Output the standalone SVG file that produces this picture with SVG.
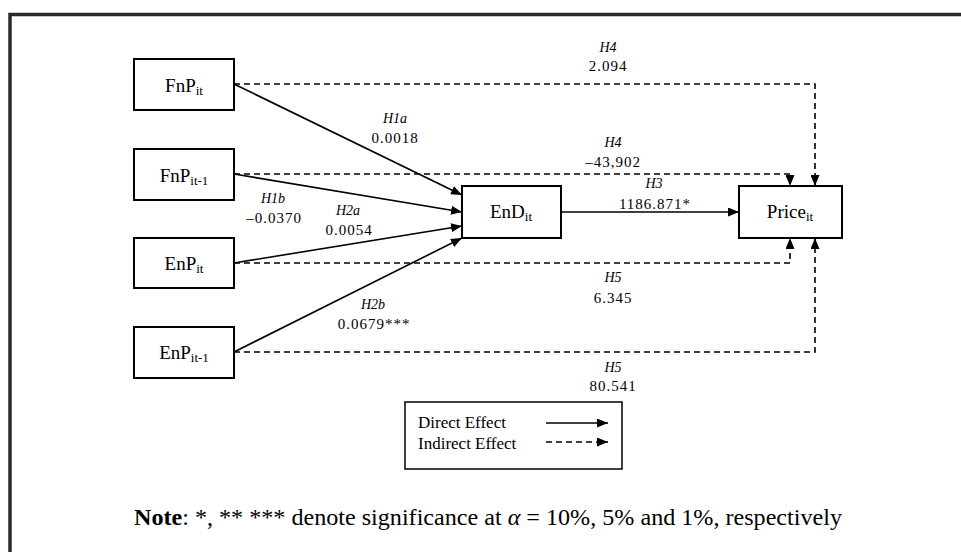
<svg xmlns="http://www.w3.org/2000/svg" width="961" height="552" viewBox="0 0 961 552">
<defs>
<marker id="ah" markerWidth="11" markerHeight="9" refX="11" refY="4.5" orient="auto" markerUnits="userSpaceOnUse">
<path d="M0,0 L11,4.5 L0,9 Z" fill="#000"/>
</marker>
<style>
.box{fill:#fff;stroke:#000;stroke-width:2}
.nl{font-family:"Liberation Serif","Times New Roman",serif;font-size:19px;fill:#000;text-anchor:middle}
.sub{font-size:13px}
.h{font-family:"Liberation Serif","Times New Roman",serif;font-size:14px;font-style:italic;fill:#000;text-anchor:middle}
.v{font-family:"Liberation Serif","Times New Roman",serif;font-size:15px;letter-spacing:1px;fill:#000;text-anchor:middle}
.sol{fill:none;stroke:#000;stroke-width:1.6}
.das{fill:none;stroke:#000;stroke-width:1.6;stroke-dasharray:6,4}
.lg{font-family:"Liberation Serif","Times New Roman",serif;font-size:17px;fill:#000}
.note{font-family:"Liberation Serif","Times New Roman",serif;font-size:24px;fill:#000}
</style>
</defs>
<rect x="0" y="0" width="961" height="552" fill="#fff"/>
<path d="M10,600 L10,14.5 L980,14.5" fill="none" stroke="#2b2b2b" stroke-width="3.5"/>

<g id="connectors">
<path class="das" d="M234,84 H815 V186" marker-end="url(#ah)"/>
<path class="das" d="M234,174 H790 V186" marker-end="url(#ah)"/>
<path class="das" d="M234,263 H790 V238" marker-end="url(#ah)"/>
<path class="das" d="M234,352 H815 V238" marker-end="url(#ah)"/>
<path class="sol" d="M234,84 L462,195" marker-end="url(#ah)"/>
<path class="sol" d="M234,174 L462,212" marker-end="url(#ah)"/>
<path class="sol" d="M234,263 L462,226" marker-end="url(#ah)"/>
<path class="sol" d="M234,352 L462,238" marker-end="url(#ah)"/>
<path class="sol" d="M561,212 L739,212" marker-end="url(#ah)"/>
</g>

<g id="labels">
<text class="h" x="608" y="52">H4</text>
<text class="v" x="608" y="71">2.094</text>
<text class="h" x="395" y="123">H1a</text>
<text class="v" x="395" y="143">0.0018</text>
<text class="h" x="613" y="147">H4</text>
<text class="v" x="613" y="167">–43,902</text>
<text class="h" x="654" y="188">H3</text>
<text class="v" x="655" y="209">1186.871*</text>
<text class="h" x="273" y="203">H1b</text>
<text class="v" x="274" y="223">–0.0370</text>
<text class="h" x="348" y="215">H2a</text>
<text class="v" x="349" y="235">0.0054</text>
<text class="h" x="373" y="309">H2b</text>
<text class="v" x="374" y="329">0.0679***</text>
<text class="h" x="613" y="282">H5</text>
<text class="v" x="613" y="303">6.345</text>
<text class="h" x="613" y="372">H5</text>
<text class="v" x="613" y="391">80.541</text>
</g>

<g id="FnPit">
<rect class="box" x="134" y="59" width="100" height="51"/>
<text class="nl" x="184" y="92">FnP<tspan class="sub" dy="3">it</tspan></text>
</g>
<g id="FnPit1">
<rect class="box" x="134" y="149" width="100" height="51"/>
<text class="nl" x="184" y="182">FnP<tspan class="sub" dy="3">it-1</tspan></text>
</g>
<g id="EnPit">
<rect class="box" x="134" y="238" width="100" height="50"/>
<text class="nl" x="184" y="270">EnP<tspan class="sub" dy="3">it</tspan></text>
</g>
<g id="EnPit1">
<rect class="box" x="134" y="327" width="100" height="51"/>
<text class="nl" x="184" y="359">EnP<tspan class="sub" dy="3">it-1</tspan></text>
</g>
<g id="EnDit">
<rect class="box" x="462" y="186" width="99" height="52"/>
<text class="nl" x="511" y="218">EnD<tspan class="sub" dy="3">it</tspan></text>
</g>
<g id="Priceit">
<rect class="box" x="739" y="186" width="103" height="52"/>
<text class="nl" x="790" y="218">Price<tspan class="sub" dy="3">it</tspan></text>
</g>

<g id="legend">
<rect x="405" y="402" width="217" height="67" fill="#fff" stroke="#000" stroke-width="1.5"/>
<text class="lg" x="418" y="428">Direct Effect</text>
<text class="lg" x="418" y="449">Indirect Effect</text>
<path class="sol" d="M546,423 L608,423" marker-end="url(#ah)"/>
<path class="das" d="M546,442 L608,442" stroke-dasharray="5,4" marker-end="url(#ah)"/>
</g>

<text class="note" x="134" y="525" textLength="708" lengthAdjust="spacingAndGlyphs"><tspan font-weight="bold">Note</tspan>: *, ** *** denote significance at <tspan font-style="italic">α</tspan> = 10%, 5% and 1%, respectively</text>
</svg>
